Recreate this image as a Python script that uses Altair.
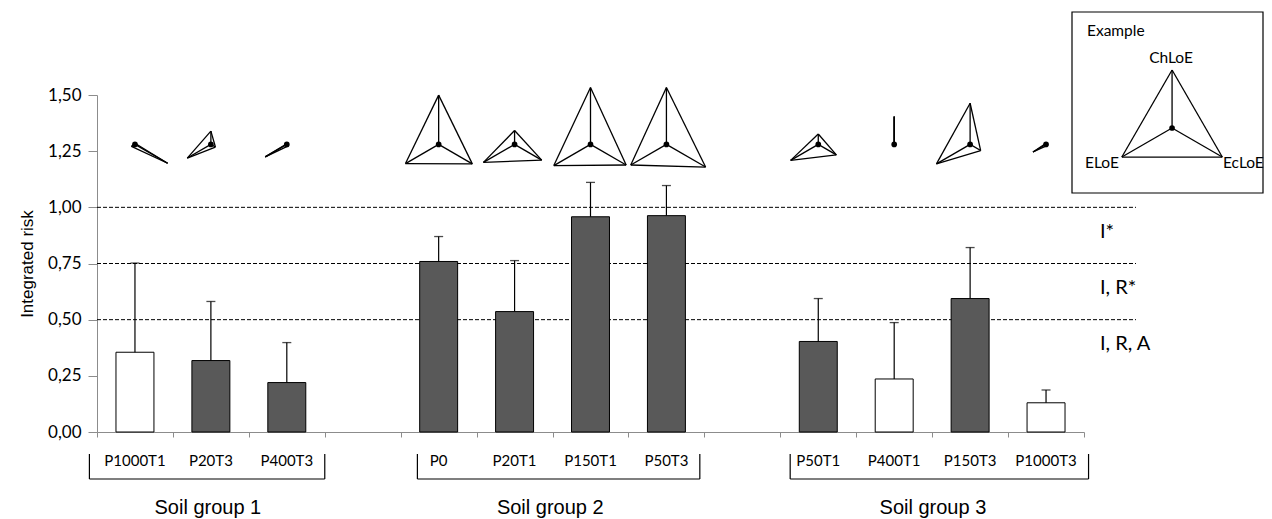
import math
import altair as alt
import pandas as pd

# ---------------- data ----------------
groups = ["Soil group 1", "Soil group 2", "Soil group 3"]
group_treatments = [
    ["P1000T1", "P20T3", "P400T3"],
    ["P0", "P20T1", "P150T1", "P50T3"],
    ["P50T1", "P400T1", "P150T3", "P1000T3"],
]
risk = [0.355, 0.318, 0.220, 0.759, 0.536, 0.958, 0.963, 0.403, 0.236, 0.594, 0.130]
risk_err = [0.397, 0.263, 0.178, 0.111, 0.227, 0.153, 0.134, 0.191, 0.251, 0.227, 0.057]
bar_kind = ["open", "filled", "filled", "filled", "filled", "filled", "filled",
            "filled", "open", "filled", "open"]
# lines of evidence (0-1) shown as triangle glyphs above the bars
chloe = [0.02, 0.23, 0.01, 0.85, 0.24, 0.98, 0.98, 0.18, 0.48, 0.71, 0.02]
eloe = [0.07, 0.47, 0.43, 0.66, 0.62, 0.73, 0.71, 0.55, 0.00, 0.67, 0.26]
ecloe = [0.65, 0.09, 0.04, 0.67, 0.54, 0.71, 0.78, 0.36, 0.00, 0.21, 0.03]
thresholds = [0.5, 0.75, 1.0]
zone_labels = ["I, R, A", "I, R*", "I*"]
y_ticks = [0.0, 0.25, 0.5, 0.75, 1.0, 1.25, 1.5]
example_values = [1.0, 1.0, 1.0]
example_names = ["ChLoE", "ELoE", "EcLoE"]

# ---------------- layout ----------------
N_BANDS = 13
W, H = 987, 337
PX_X = W / N_BANDS
PX_Y = H / 1.5
R_PX = 58          # glyph radius (px) for a value of 1
GLYPH_Y = 1.28     # glyph centre height in data units
bracket_extent = [(-0.10, 3.00), (4.22, 7.94), (9.13, 13.06)]
group_label_x = [1.46, 5.97, 11.01]

FONT_C = "Lato"
FONT_A = "Liberation Sans"

# positions: one empty band between groups
pos, names = [], []
i = 0
for g in group_treatments:
    for t in g:
        pos.append(i)
        names.append(t)
        i += 1
    i += 1

bars = pd.DataFrame({
    "name": names,
    "x0": [p + 0.25 for p in pos],
    "x1": [p + 0.75 for p in pos],
    "xc": [p + 0.5 for p in pos],
    "risk": risk,
    "upper": [r + e for r, e in zip(risk, risk_err)],
    "kind": bar_kind,
})


def glyph_segments(cx, cy, vals):
    angles = [90, 210, 330]
    pts = []
    for v, a in zip(vals, angles):
        rad = math.radians(a)
        pts.append((cx + v * R_PX * math.cos(rad) / PX_X,
                    cy + v * R_PX * math.sin(rad) / PX_Y))
    segs = []
    for p in pts:
        segs.append((cx, cy, p[0], p[1]))
    for a_, b_ in [(0, 2), (2, 1), (1, 0)]:
        segs.append((pts[a_][0], pts[a_][1], pts[b_][0], pts[b_][1]))
    return segs


seg_rows = []
for p, c, e, ec in zip(pos, chloe, eloe, ecloe):
    for s in glyph_segments(p + 0.5, GLYPH_Y, [c, e, ec]):
        seg_rows.append(dict(x=s[0], y=s[1], x2=s[2], y2=s[3]))
EX_X = 14.16
EX_Y = 1.353
for s in glyph_segments(EX_X, EX_Y, example_values):
    seg_rows.append(dict(x=s[0], y=s[1], x2=s[2], y2=s[3]))
segs = pd.DataFrame(seg_rows)
dots = pd.DataFrame({"x": [p + 0.5 for p in pos] + [EX_X],
                     "y": [GLYPH_Y] * len(pos) + [EX_Y]})

xs = alt.Scale(domain=[0, N_BANDS], nice=False, zero=False)
ys = alt.Scale(domain=[0, 1.5], nice=False, zero=False)

# thresholds (dashed)
thr = pd.DataFrame({"t": thresholds, "lab": zone_labels,
                    "ly": [t - 0.137 for t in thresholds]})
dash = alt.Chart(thr).mark_rule(color="black", strokeDash=[4, 2], strokeWidth=1).encode(
    y=alt.Y("t:Q", scale=ys), x=alt.value(0), x2=alt.value(1039))
zone_txt = alt.Chart(thr).mark_text(align="left", baseline="alphabetic", font=FONT_C,
                                    fontSize=20, color="black").encode(
    y=alt.Y("ly:Q", scale=ys), x=alt.value(1003), text="lab:N")

base = alt.Chart(bars)
bar = base.mark_bar(stroke="black", strokeWidth=1).encode(
    x=alt.X("x0:Q", scale=xs,
            axis=alt.Axis(values=list(range(N_BANDS + 1)), labels=False, title=None,
                          grid=False, tickSize=5, domainColor="#8c8c8c",
                          tickColor="#8c8c8c")),
    x2="x1:Q",
    y=alt.Y("risk:Q", scale=ys,
            axis=alt.Axis(values=y_ticks, grid=False, title="Integrated risk",
                          labelExpr="replace(format(datum.value, '.2f'), '.', ',')",
                          labelFont=FONT_C, labelFontSize=17, labelColor="black",
                          labelPadding=7, tickSize=9, domainColor="#8c8c8c",
                          tickColor="#8c8c8c", titleFont=FONT_A, titleFontSize=17,
                          titleFontWeight="normal", titleColor="black",
                          titlePadding=11)),
    y2=alt.value(H),
    fill=alt.Fill("kind:N", scale=alt.Scale(domain=["open", "filled"],
                                            range=["white", "#595959"]), legend=None),
)
err = base.mark_rule(color="black", strokeWidth=1.2).encode(
    x="xc:Q", y="risk:Q", y2="upper:Q")
cap = base.mark_tick(orient="horizontal", size=9, thickness=1.3, color="black").encode(
    x="xc:Q", y="upper:Q")

glyph = alt.Chart(segs).mark_rule(color="black", strokeWidth=1.3).encode(
    x=alt.X("x:Q", scale=xs), y=alt.Y("y:Q", scale=ys), x2="x2:Q", y2="y2:Q")
gdot = alt.Chart(dots).mark_circle(color="black", opacity=1, size=32).encode(
    x=alt.X("x:Q", scale=xs), y=alt.Y("y:Q", scale=ys))

cat_txt = base.mark_text(font=FONT_C, fontSize=15, baseline="alphabetic",
                         color="black").encode(
    x="xc:Q", y=alt.value(371), text="name:N")

# brackets
br_rows = []
for l, r in bracket_extent:
    br_rows.append(dict(a=l, b=l, y1=359, y2=384))
    br_rows.append(dict(a=r, b=r, y1=359, y2=384))
    br_rows.append(dict(a=l, b=r, y1=384, y2=384))
br = pd.DataFrame(br_rows)
brackets = alt.Chart(br).mark_rule(color="black", strokeWidth=1.2).encode(
    x=alt.X("a:Q", scale=xs), x2="b:Q", y=alt.Y("y1:Q", scale=None), y2="y2:Q")

grp = pd.DataFrame({"g": groups, "x": group_label_x})
grp_txt = alt.Chart(grp).mark_text(font=FONT_A, fontSize=20, baseline="alphabetic",
                                   color="black").encode(
    x=alt.X("x:Q", scale=xs), y=alt.value(419), text="g:N")

# example box
one = pd.DataFrame({"a": [0]})
ex_box = alt.Chart(one).mark_rect(fill="white", stroke="black", strokeWidth=1.2).encode(
    x=alt.value(975), x2=alt.value(1166), y=alt.value(-83), y2=alt.value(98))
ex_t = pd.DataFrame({
    "t": ["Example"] + example_names,
    "px": [990, 1074, 988, 1126],
    "py": [-59, -32, 73, 73],
    "al": ["left", "center", "left", "left"],
})
ex_txt_l = alt.Chart(ex_t[ex_t.al == "left"]).mark_text(
    align="left", baseline="alphabetic", font=FONT_C, fontSize=15.5, color="black").encode(
    x=alt.X("px:Q", scale=None), y=alt.Y("py:Q", scale=None), text="t:N")
ex_txt_c = alt.Chart(ex_t[ex_t.al == "center"]).mark_text(
    align="center", baseline="alphabetic", font=FONT_C, fontSize=15.5, color="black").encode(
    x=alt.X("px:Q", scale=None), y=alt.Y("py:Q", scale=None), text="t:N")

chart = alt.layer(
    dash, bar, err, cap, ex_box, glyph, gdot, zone_txt, cat_txt, brackets, grp_txt,
    ex_txt_l, ex_txt_c,
).properties(
    width=W, height=H,
    autosize=alt.AutoSizeParams(type="none"),
    padding={"left": 89, "top": 87, "right": 180, "bottom": 87},
).configure_view(stroke=None).configure_axis(labelFont=FONT_C)

chart.save("out.html", embed_options={"renderer": "svg", "actions": False})
